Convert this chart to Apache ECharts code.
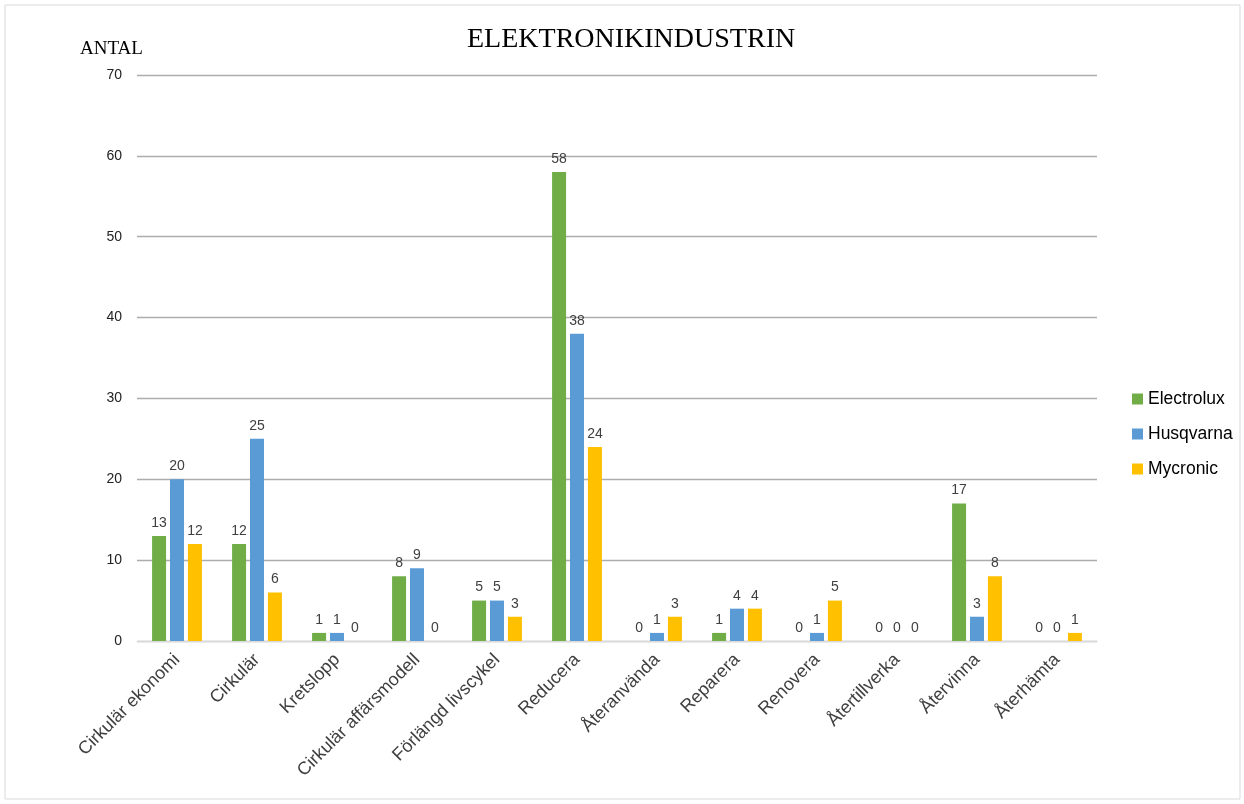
<!DOCTYPE html>
<html>
<head>
	<meta charset="utf-8">
	<title>ELEKTRONIKINDUSTRIN</title>
	<script src="https://cdn.jsdelivr.net/npm/echarts@6/dist/echarts.min.js"></script>
	<style type="text/css">
		html, body { margin: 0; padding: 0; background: #fff; }
	</style>
</head>
<body>
	<div id="chart" style="width:1244px;height:804px"></div>
	<script type="text/javascript">
		var categories = ['Cirkulär ekonomi', 'Cirkulär', 'Kretslopp', 'Cirkulär affärsmodell', 'Förlängd livscykel', 'Reducera', 'Återanvända', 'Reparera', 'Renovera', 'Återtillverka', 'Återvinna', 'Återhämta'];
		var electrolux = [13, 12, 1, 8, 5, 58, 0, 1, 0, 0, 17, 0];
		var husqvarna = [20, 25, 1, 9, 5, 38, 1, 4, 1, 0, 3, 0];
		var mycronic = [12, 6, 0, 0, 3, 24, 3, 4, 5, 0, 8, 1];
		var yTicks = [0, 10, 20, 30, 40, 50, 60, 70];

		var myChart = echarts.init(document.getElementById('chart'));
		var labelStyle = { show: true, position: 'top', distance: 6, color: '#404040', fontSize: 14, fontFamily: 'Liberation Sans, Arial' };
		function bar(name, data, color) {
			return { name: name, type: 'bar', data: data, barWidth: 14, barGap: '28%', itemStyle: { color: color }, label: labelStyle };
		}
		var option = {
			animation: false,
			graphic: [
				{ type: 'rect', shape: { x: 5, y: 5, width: 1235, height: 794 }, style: { fill: 'none', stroke: '#d9d9d9', lineWidth: 1 } },
				{ type: 'text', left: 80, top: 40, style: { text: 'ANTAL', font: '19px "Liberation Serif", "Times New Roman", serif', fill: '#000' } }
			],
			title: {
				text: 'ELEKTRONIKINDUSTRIN',
				left: 462, top: 21,
				textStyle: { fontFamily: 'Liberation Serif, Times New Roman, serif', fontWeight: 'normal', fontSize: 28, color: '#000' }
			},
			legend: {
				orient: 'vertical', left: 1127, top: 385, itemGap: 17,
				itemWidth: 11, itemHeight: 11, icon: 'rect',
				textStyle: { fontSize: 17.5, color: '#000', fontFamily: 'Liberation Sans, Arial' },
				data: ['Electrolux', 'Husqvarna', 'Mycronic']
			},
			grid: { left: 137, right: 147, top: 75, bottom: 163, containLabel: false },
			xAxis: {
				type: 'category', data: categories,
				axisLine: { lineStyle: { color: '#d9d9d9' } },
				axisTick: { show: false },
				axisLabel: { interval: 0, rotate: 45, margin: 16, fontSize: 18, color: '#404040', fontFamily: 'Liberation Sans, Arial' }
			},
			yAxis: {
				type: 'value', min: yTicks[0], max: yTicks[yTicks.length - 1], interval: 10,
				axisLine: { show: false }, axisTick: { show: false },
				axisLabel: { margin: 15, fontSize: 14, color: '#222', fontFamily: 'Liberation Sans, Arial' },
				splitLine: { lineStyle: { color: '#adadad', width: 1.3 } }
			},
			series: [
				bar('Electrolux', electrolux, '#70AD47'),
				bar('Husqvarna', husqvarna, '#5B9BD5'),
				bar('Mycronic', mycronic, '#FFC000')
			]
		};
		myChart.setOption(option);
	</script>
</body>
</html>
